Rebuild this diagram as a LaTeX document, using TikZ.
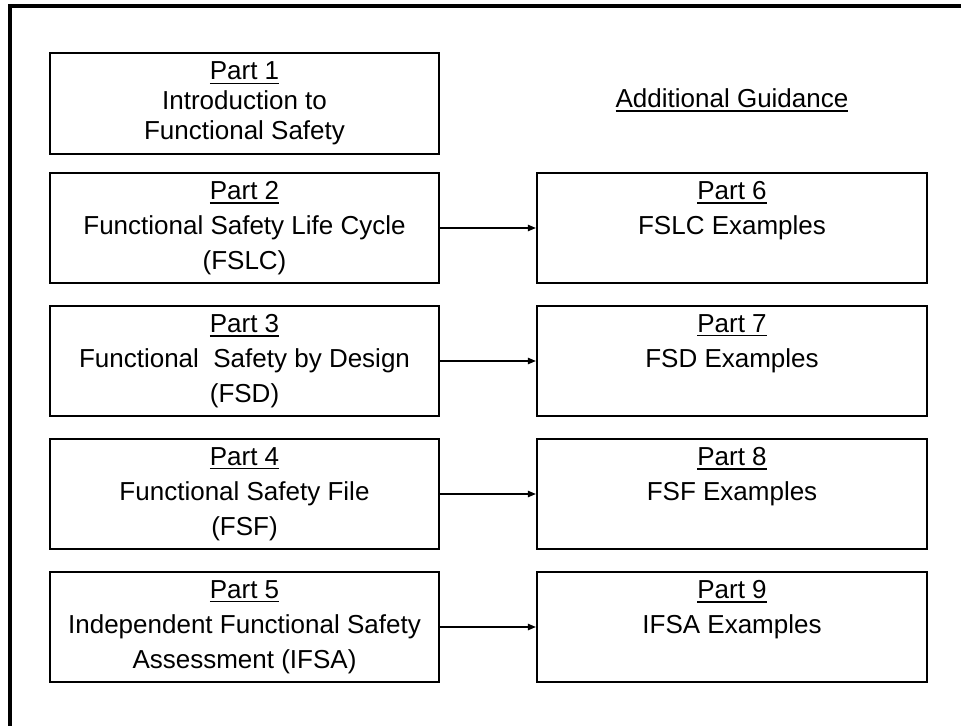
\documentclass[tikz,border=0pt]{standalone}
\usepackage{fontspec}
\setmainfont{Liberation Sans}
\usetikzlibrary{arrows.meta}

% underlined heading word, e.g. "Part 1"
\newcommand\partlabel[1]{\setbox0\hbox{#1}\rlap{\rule[-2.1pt]{\wd0}{0.7pt}}\box0}
% empty third line so two-line texts sit at the top like the three-line ones
\newcommand\blankline{\phantom{()}}

\begin{document}
\begin{tikzpicture}[x=0.5pt,y=-0.5pt,
  basefont/.style={font=\fontsize{13}{17.5}\selectfont},
  partbox/.style={draw,line width=1.1pt,minimum width=194.5pt,minimum height=55pt,
    inner sep=0pt,align=center,basefont},
  conn/.style={line width=0.65pt,-{Triangle[length=4pt,width=3.2pt]}},
  frame/.style={line width=1.6pt}]

\useasboundingbox (0,0) rectangle (961,726);

% outer frame (top and left edges)
\draw[frame] (10,726) -- (10,6) -- (961,6);

% left column
\node[partbox,minimum height=50.5pt,font=\fontsize{13}{15}\selectfont] (p1) at (244.5,103.5)
  {\partlabel{Part 1}\\Introduction to\\Functional Safety};
\node[partbox] (p2) at (244.5,228) {\partlabel{Part 2}\\Functional Safety Life Cycle\\(FSLC)};
\node[partbox] (p3) at (244.5,361) {\partlabel{Part 3}\\Functional\ \ Safety by Design\\(FSD)};
\node[partbox] (p4) at (244.5,494) {\partlabel{Part 4}\\Functional Safety File\\(FSF)};
\node[partbox] (p5) at (244.5,627) {\partlabel{Part 5}\\Independent Functional Safety\\Assessment (IFSA)};

% right column
\node[basefont,inner sep=0pt] (ag) at (732,100) {\partlabel{Additional Guidance}};

\node[partbox,minimum width=195pt] (p6) at (732,228) {\partlabel{Part 6}\\FSLC Examples\\\blankline};
\node[partbox,minimum width=195pt] (p7) at (732,361) {\partlabel{Part 7}\\FSD Examples\\\blankline};
\node[partbox,minimum width=195pt] (p8) at (732,494) {\partlabel{Part 8}\\FSF Examples\\\blankline};
\node[partbox,minimum width=195pt] (p9) at (732,627) {\partlabel{Part 9}\\IFSA Examples\\\blankline};

% connectors
\draw[conn] (p2.east) -- (p6.west);
\draw[conn] (p3.east) -- (p7.west);
\draw[conn] (p4.east) -- (p8.west);
\draw[conn] (p5.east) -- (p9.west);

\end{tikzpicture}
\end{document}
